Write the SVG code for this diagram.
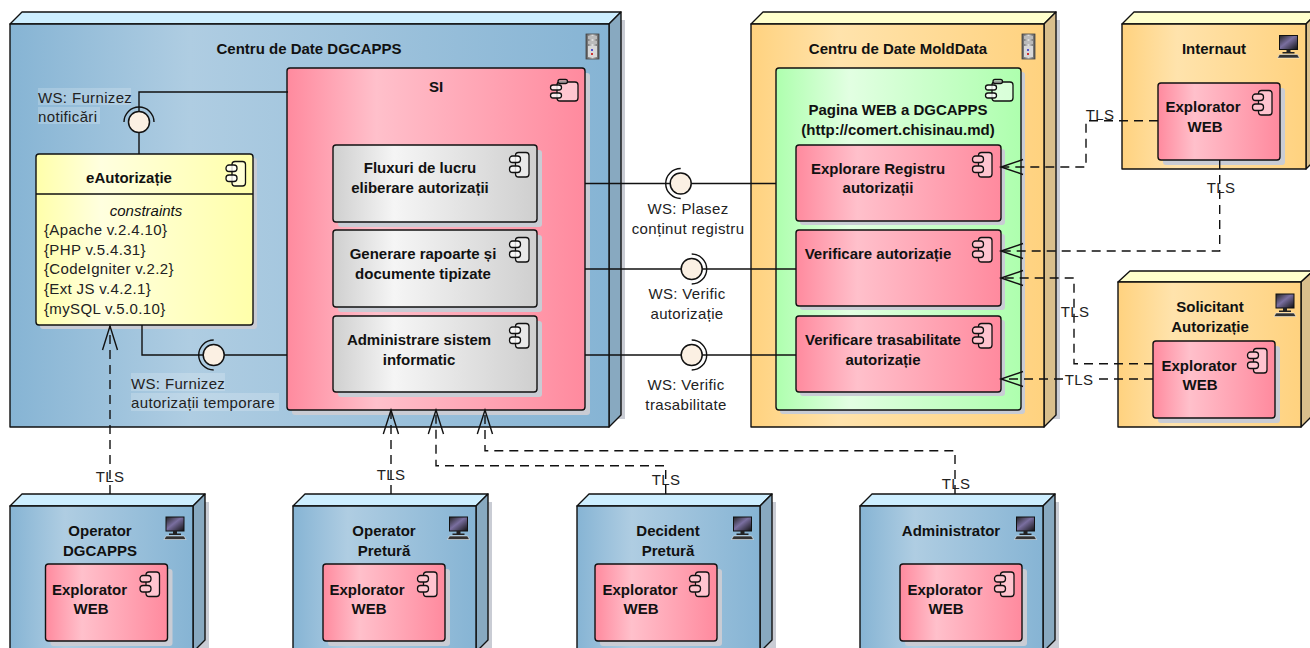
<svg xmlns="http://www.w3.org/2000/svg" width="1310" height="648" viewBox="0 0 1310 648">
<style>
text{font-family:"Liberation Sans",Arial,sans-serif;font-size:14px;fill:#111}
.b{font-weight:bold;text-anchor:middle;font-size:15px}
.l{font-size:15px;letter-spacing:.35px;fill:#222}
.m{text-anchor:middle}
.i{font-style:italic}
.o{stroke:#111;stroke-width:1.4;stroke-linejoin:round}
.sh{fill:#c9ccd4}
.tb{fill:#cdeeff}.sb{fill:#88a9c0}.fb{fill:url(#gb)}
.to{fill:#ffffcc}.so{fill:#d9bf8c}.fo{fill:url(#go)}
.fp{fill:url(#gp)}.fg{fill:url(#gg)}.fv{fill:url(#gv)}.fy{fill:url(#gy)}
.c{fill:none;stroke:#111;stroke-width:1.4}
.d{stroke-dasharray:9 6}
.lb{fill:#fff;opacity:.2}
.sock{fill:#fbf0e3;stroke:#111;stroke-width:1.5}
</style>
<defs>
<linearGradient id="gb"><stop offset="0" stop-color="#86b4d4"/><stop offset=".3" stop-color="#afcde2"/><stop offset="1" stop-color="#86b4d4"/></linearGradient>
<linearGradient id="go"><stop offset="0" stop-color="#ffd27f"/><stop offset=".3" stop-color="#ffe3ac"/><stop offset="1" stop-color="#ffd27f"/></linearGradient>
<linearGradient id="gp"><stop offset="0" stop-color="#ff8a9e"/><stop offset=".3" stop-color="#ffc0cb"/><stop offset="1" stop-color="#ff8a9e"/></linearGradient>
<linearGradient id="gg"><stop offset="0" stop-color="#cfcfcf"/><stop offset=".3" stop-color="#f5f5f5"/><stop offset="1" stop-color="#cfcfcf"/></linearGradient>
<linearGradient id="gv"><stop offset="0" stop-color="#aeffae"/><stop offset=".3" stop-color="#e2ffe2"/><stop offset="1" stop-color="#aeffae"/></linearGradient>
<linearGradient id="gy"><stop offset="0" stop-color="#ffffaa"/><stop offset=".3" stop-color="#ffffdf"/><stop offset="1" stop-color="#ffffaa"/></linearGradient>
<linearGradient id="gm" x1="0" y1="0" x2="1" y2="1"><stop offset="0" stop-color="#222"/><stop offset=".45" stop-color="#7a6fa0"/><stop offset="1" stop-color="#111"/></linearGradient>
<linearGradient id="gs"><stop offset="0" stop-color="#555"/><stop offset=".5" stop-color="#ddd"/><stop offset="1" stop-color="#555"/></linearGradient>
<g id="ci">
<rect x="6.500" y="0.500" width="13.500" height="24.500" rx="3" fill="#ffc4cf" stroke="#111" stroke-width="1.3"/>
<rect x="0.500" y="4" width="11" height="6.500" rx="3" fill="#ffc4cf" stroke="#111" stroke-width="1.3"/>
<rect x="0.500" y="14" width="11" height="6.500" rx="3" fill="#ffc4cf" stroke="#111" stroke-width="1.3"/>
</g>
<g id="cw">
<rect x="6.500" y="0.500" width="13.500" height="24.500" rx="3" fill="#fff" fill-opacity=".5" stroke="#111" stroke-width="1.3"/>
<rect x="0.500" y="4" width="11" height="6.500" rx="3" fill="#fff" fill-opacity=".8" stroke="#111" stroke-width="1.3"/>
<rect x="0.500" y="14" width="11" height="6.500" rx="3" fill="#fff" fill-opacity=".8" stroke="#111" stroke-width="1.3"/>
</g>
<g id="cl">
<rect x="7" y="3" width="21" height="19" rx="3" fill="#fff" fill-opacity=".5" stroke="#111" stroke-width="1.3"/>
<rect x="8" y="0.500" width="9.500" height="4" rx="2" fill="#fff" fill-opacity=".5" stroke="#111" stroke-width="1.3"/>
<rect x="0.500" y="6" width="11" height="5" rx="2.500" fill="#fff" fill-opacity=".8" stroke="#111" stroke-width="1.3"/>
<rect x="0.500" y="14" width="11" height="5" rx="2.500" fill="#fff" fill-opacity=".8" stroke="#111" stroke-width="1.3"/>
</g>
<g id="srv">
<rect x="0" y="0" width="13" height="25" fill="url(#gs)" stroke="#444" stroke-width=".8"/>
<rect x="2" y="2" width="9" height="3" fill="#bbb"/><rect x="2" y="7" width="9" height="3" fill="#bbb"/>
<rect x="2" y="12" width="9" height="11" fill="#d8d8d8"/>
<rect x="5" y="15" width="2" height="2" fill="#55c"/><rect x="5" y="19" width="2" height="2" fill="#c33"/>
</g>
<g id="pc">
<rect x="2" y="0" width="18" height="14" fill="url(#gm)" stroke="#111"/>
<rect x="9" y="14" width="4" height="3" fill="#222"/>
<rect x="5" y="16.500" width="12" height="1.500" fill="#222"/>
<path d="M2 19H20L22 22.500H0Z" fill="#333" stroke="#fff" stroke-width=".5"/>
</g>
</defs>

<g id="node-centru-dgcapps">
<rect class="sh" x="20" y="20" width="605" height="399"/>
<path class="o tb" d="M10 24L22 12H621L609 24Z"/>
<path class="o sb" d="M609 24L621 12V415L609 427Z"/>
<rect class="o fb" x="10" y="24" width="599" height="403"/>
<text class="b" x="309" y="54">Centru de Date DGCAPPS</text>
<use href="#srv" x="586" y="34"/>
</g>
<g id="node-eautorizatie">
<rect class="sh" x="40" y="158" width="217" height="171" rx="3"/>
<rect class="o fy" x="36" y="154" width="217" height="171" rx="3"/>
<path class="c" d="M36 194H253"/>
<text class="b" x="129" y="183">eAutorizație</text>
<use href="#cw" x="225.500" y="161"/>
<text class="m i" x="146" y="216" style="font-size:15px">constraints</text>
<text class="l" x="44" y="235">{Apache v.2.4.10}</text>
<text class="l" x="44" y="255">{PHP v.5.4.31}</text>
<text class="l" x="44" y="274">{CodeIgniter v.2.2}</text>
<text class="l" x="44" y="294">{Ext JS v.4.2.1}</text>
<text class="l" x="44" y="314">{mySQL v.5.0.10}</text>
</g>
<g id="node-si">
<rect class="sh" x="292" y="73" width="298" height="342" rx="3"/>
<rect class="o fp" x="287" y="68" width="298" height="342" rx="3"/>
<text class="b" x="436" y="92">SI</text>
<use href="#cl" x="550" y="79"/>
</g>
<g id="node-fluxuri">
<rect class="sh" x="338" y="150" width="204" height="77" rx="3"/>
<rect class="o fg" x="333" y="145" width="204" height="77" rx="3"/>
<text class="b" x="420" y="173">Fluxuri de lucru</text>
<text class="b" x="420" y="193">eliberare autorizații</text>
<use href="#cw" x="509" y="152"/>
</g>
<g id="node-generare">
<rect class="sh" x="338" y="235" width="204" height="77" rx="3"/>
<rect class="o fg" x="333" y="230" width="204" height="77" rx="3"/>
<text class="b" x="423" y="259">Generare rapoarte și</text>
<text class="b" x="423" y="279">documente tipizate</text>
<use href="#cw" x="509" y="237"/>
</g>
<g id="node-administrare">
<rect class="sh" x="338" y="321" width="204" height="76" rx="3"/>
<rect class="o fg" x="333" y="316" width="204" height="76" rx="3"/>
<text class="b" x="419" y="345">Administrare sistem</text>
<text class="b" x="419" y="365">informatic</text>
<use href="#cw" x="509" y="323"/>
</g>

<g id="node-centru-molddata">
<rect class="sh" x="761" y="20" width="299" height="399"/>
<path class="o to" d="M751 24L763 12H1056L1044 24Z"/>
<path class="o so" d="M1044 24L1056 12V415L1044 427Z"/>
<rect class="o fo" x="751" y="24" width="293" height="403"/>
<text class="b" x="898" y="54">Centru de Date MoldData</text>
<use href="#srv" x="1022" y="34"/>
</g>
<g id="node-pagina">
<rect class="sh" x="780" y="72" width="245" height="342" rx="3"/>
<rect class="o fv" x="776" y="68" width="245" height="342" rx="3"/>
<text class="b" x="898" y="115">Pagina WEB a DGCAPPS</text>
<text class="b" x="898" y="135">(http://comert.chisinau.md)</text>
<use href="#cl" x="985" y="79"/>
</g>
<g id="node-explorare">
<rect class="sh" x="800" y="149" width="205" height="76" rx="3"/>
<rect class="o fp" x="796" y="145" width="205" height="76" rx="3"/>
<text class="b" x="878" y="174">Explorare Registru</text>
<text class="b" x="878" y="193">autorizații</text>
<use href="#ci" x="972" y="152"/>
</g>
<g id="node-verificare">
<rect class="sh" x="800" y="234" width="205" height="76" rx="3"/>
<rect class="o fp" x="796" y="230" width="205" height="76" rx="3"/>
<text class="b" x="878" y="259">Verificare autorizație</text>
<use href="#ci" x="972" y="237"/>
</g>
<g id="node-trasabilitate">
<rect class="sh" x="800" y="320" width="205" height="76" rx="3"/>
<rect class="o fp" x="796" y="316" width="205" height="76" rx="3"/>
<text class="b" x="883" y="345">Verificare trasabilitate</text>
<text class="b" x="883" y="365">autorizație</text>
<use href="#ci" x="972" y="323"/>
</g>

<g id="node-internaut">
<path class="o to" d="M1122 24L1134 12H1318L1306 24Z"/>
<path class="o so" d="M1306 24L1318 12V157L1306 169Z"/>
<rect class="o fo" x="1122" y="24" width="184" height="145"/>
<text class="b" x="1214" y="54">Internaut</text>
<use href="#pc" x="1277.500" y="35.500"/>
<rect class="sh" x="1163" y="88" width="122" height="77" rx="3"/>
<rect class="o fp" x="1158" y="83" width="122" height="77" rx="3"/>
<text class="b" x="1203" y="112">Explorator</text>
<text class="b" x="1205" y="132">WEB</text>
<use href="#ci" x="1252" y="90"/>
</g>
<g id="node-solicitant">
<path class="o to" d="M1118 282L1130 271H1313L1301 282Z"/>
<path class="o so" d="M1301 282L1313 271V415L1301 427Z"/>
<rect class="o fo" x="1118" y="282" width="183" height="145"/>
<text class="b" x="1210" y="312">Solicitant</text>
<text class="b" x="1210" y="332">Autorizație</text>
<use href="#pc" x="1274" y="294"/>
<rect class="sh" x="1158" y="346" width="122" height="77" rx="3"/>
<rect class="o fp" x="1153" y="341" width="122" height="77" rx="3"/>
<text class="b" x="1199" y="371">Explorator</text>
<text class="b" x="1200" y="390">WEB</text>
<use href="#ci" x="1247" y="348"/>
</g>

<g id="node-operator-dgcapps">
<rect class="sh" x="20" y="502" width="189" height="160"/>
<path class="o tb" d="M10 506L22 494H205L193 506Z"/>
<path class="o sb" d="M193 506L205 494V640L193 652Z"/>
<rect class="o fb" x="10" y="506" width="183" height="146"/>
<text class="b" x="100" y="536">Operator</text>
<text class="b" x="100" y="556">DGCAPPS</text>
<use href="#pc" x="164" y="517"/>
<rect class="sh" x="50.500" y="569" width="122" height="77" rx="3"/>
<rect class="o fp" x="45.500" y="564" width="122" height="77" rx="3"/>
<text class="b" x="89.500" y="595">Explorator</text>
<text class="b" x="91" y="614">WEB</text>
<use href="#ci" x="139.500" y="571.500"/>
</g>
<g id="node-operator-pretura">
<rect class="sh" x="303" y="502" width="189" height="160"/>
<path class="o tb" d="M293 506L305 494H488L476 506Z"/>
<path class="o sb" d="M476 506L488 494V640L476 652Z"/>
<rect class="o fb" x="293" y="506" width="183" height="146"/>
<text class="b" x="384" y="536">Operator</text>
<text class="b" x="384" y="556">Pretură</text>
<use href="#pc" x="447.500" y="517"/>
<rect class="sh" x="328" y="569" width="122" height="77" rx="3"/>
<rect class="o fp" x="323" y="564" width="122" height="77" rx="3"/>
<text class="b" x="367" y="595">Explorator</text>
<text class="b" x="369" y="614">WEB</text>
<use href="#ci" x="417" y="571.500"/>
</g>
<g id="node-decident">
<rect class="sh" x="587" y="502" width="189" height="160"/>
<path class="o tb" d="M577 506L589 494H772L760 506Z"/>
<path class="o sb" d="M760 506L772 494V640L760 652Z"/>
<rect class="o fb" x="577" y="506" width="183" height="146"/>
<text class="b" x="668" y="536">Decident</text>
<text class="b" x="668" y="556">Pretură</text>
<use href="#pc" x="731.500" y="517"/>
<rect class="sh" x="600" y="569" width="122" height="77" rx="3"/>
<rect class="o fp" x="595" y="564" width="122" height="77" rx="3"/>
<text class="b" x="640" y="595">Explorator</text>
<text class="b" x="641" y="614">WEB</text>
<use href="#ci" x="689" y="571.500"/>
</g>
<g id="node-administrator">
<rect class="sh" x="870" y="502" width="189" height="160"/>
<path class="o tb" d="M860 506L872 494H1055L1043 506Z"/>
<path class="o sb" d="M1043 506L1055 494V640L1043 652Z"/>
<rect class="o fb" x="860" y="506" width="183" height="146"/>
<text class="b" x="951" y="536">Administrator</text>
<use href="#pc" x="1014.500" y="517"/>
<rect class="sh" x="905" y="569" width="122" height="77" rx="3"/>
<rect class="o fp" x="900" y="564" width="122" height="77" rx="3"/>
<text class="b" x="945" y="595">Explorator</text>
<text class="b" x="946" y="614">WEB</text>
<use href="#ci" x="994" y="571.500"/>
</g>

<g id="connectors">
<path class="c" d="M288 92H139V154"/>
<path class="c" d="M142 325V355H287"/>
<path class="c" d="M585 183.500H776"/>
<path class="c" d="M585 269H796"/>
<path class="c" d="M585 355H796"/>
<path class="c" d="M124 122A15 15 0 0 1 154 122"/>
<circle class="sock" cx="139" cy="122" r="10.500"/>
<path class="c" d="M213.700 340A15 15 0 0 0 213.700 370"/>
<circle class="sock" cx="213.700" cy="355" r="10.500"/>
<path class="c" d="M680.700 168.500A15 15 0 0 0 680.700 198.500"/>
<circle class="sock" cx="680.700" cy="183.500" r="10.500"/>
<path class="c" d="M691.700 254A15 15 0 0 1 691.700 284"/>
<circle class="sock" cx="691.700" cy="269" r="10.500"/>
<path class="c" d="M691.700 340A15 15 0 0 1 691.700 370"/>
<circle class="sock" cx="691.700" cy="355" r="10.500"/>
<path class="c d" d="M110 494V326"/>
<path class="c" d="M102.500 350L110 326L117.500 350"/>
<path class="c d" d="M391 494V410"/>
<path class="c" d="M383.300 434L391 410L398.500 434"/>
<path class="c d" d="M665.700 494V465.700H436V410"/>
<path class="c" d="M428.300 434L436 410L443.500 434"/>
<path class="c d" d="M955 494V450.700H485V410"/>
<path class="c" d="M477.300 434L485 410L492.500 434"/>
<path class="c d" d="M1158 120.700H1086V167H1001"/>
<path class="c" d="M1023 159.500L1001 167L1023 174.500"/>
<path class="c d" d="M1219.700 160V251H1001"/>
<path class="c" d="M1023 243.500L1001 251L1023 258.500"/>
<path class="c d" d="M1153 363.700H1074V278H1001"/>
<path class="c" d="M1023 270.500L1001 278L1023 285.500"/>
<path class="c d" d="M1153 379H1001"/>
<path class="c" d="M1023 371.500L1001 379L1023 386.500"/>
</g>

<g id="labels">
<rect class="lb" x="38" y="88" width="93" height="17"/><rect class="lb" x="38" y="107" width="62" height="17"/>
<text class="l" x="38" y="103">WS: Furnizez</text>
<text class="l" x="38" y="122">notificări</text>
<rect class="lb" x="131" y="373" width="94" height="18"/><rect class="lb" x="131" y="393" width="148" height="18"/>
<text class="l" x="131" y="389">WS: Furnizez</text>
<text class="l" x="131" y="408">autorizații temporare</text>
<text class="l m" x="688" y="214">WS: Plasez</text>
<text class="l m" x="688" y="234">conținut registru</text>
<text class="l m" x="687" y="299">WS: Verific</text>
<text class="l m" x="687" y="319">autorizație</text>
<text class="l m" x="686" y="390">WS: Verific</text>
<text class="l m" x="686" y="410">trasabilitate</text>
<text class="l m" x="110" y="482">TLS</text>
<text class="l m" x="391" y="480">TLS</text>
<text class="l m" x="666" y="485">TLS</text>
<text class="l m" x="956" y="489">TLS</text>
<text class="l m" x="1100" y="120">TLS</text>
<text class="l m" x="1221" y="193">TLS</text>
<text class="l m" x="1075" y="317">TLS</text>
<rect x="1063" y="372" width="32" height="14" fill="#fff"/>
<text class="l m" x="1079" y="385">TLS</text>
</g>
</svg>
